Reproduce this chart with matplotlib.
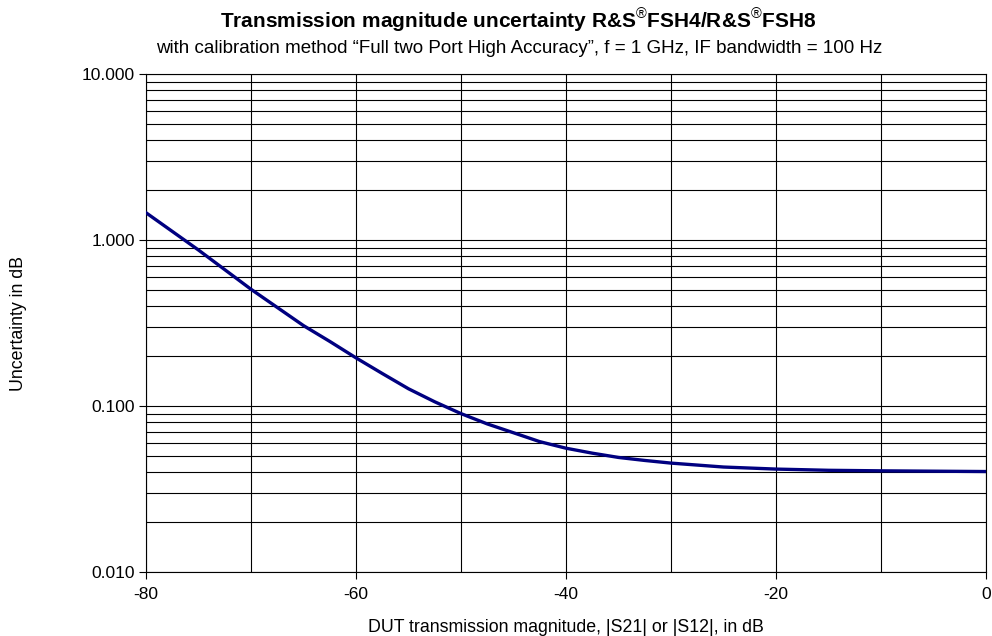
import matplotlib
matplotlib.use("Agg")
import matplotlib.pyplot as plt
from matplotlib.ticker import FixedLocator, NullFormatter

plt.rcParams['font.family'] = ['Liberation Sans', 'DejaVu Sans']
plt.rcParams['mathtext.fontset'] = 'custom'
plt.rcParams['mathtext.rm'] = 'Liberation Sans'

# DUT transmission magnitude (dB) and uncertainty (dB)
s21_db = [-80, -75, -70, -65, -62.5, -60, -57.5, -55, -52.5, -50, -47.5, -45, -42.5,
          -40, -37.5, -35, -32.5, -30, -25, -20, -15, -10, -5, 0]
uncert_db = [1.46, 0.87, 0.505, 0.305, 0.245, 0.195, 0.157, 0.127, 0.106, 0.09, 0.078,
             0.069, 0.061, 0.0557, 0.052, 0.049, 0.047, 0.0453, 0.0429, 0.0417, 0.041,
             0.0407, 0.0405, 0.0403]

x_ticks = [-80, -60, -40, -20, 0]
y_ticks = [0.01, 0.1, 1, 10]
y_labels = ["0.010", "0.100", "1.000", "10.000"]

fig = plt.figure(figsize=(9.92, 6.36), dpi=100)
ax = fig.add_axes([0.1472, 0.1006, 0.8468, 0.783])

ax.set_yscale('log')
ax.set_xlim(-80, 0)
ax.set_ylim(0.01, 10)

# grid: vertical every 10 dB, horizontal at every log subdivision
ax.xaxis.set_minor_locator(FixedLocator(range(-80, 1, 10)))
ax.set_xticks(x_ticks)
ax.set_xticklabels([str(t) for t in x_ticks])
ax.set_yticks(y_ticks)
ax.set_yticklabels(y_labels)
minor_y = [m * 10.0 ** e for e in range(-2, 1) for m in range(2, 10)]
ax.yaxis.set_minor_locator(FixedLocator(minor_y))
ax.yaxis.set_minor_formatter(NullFormatter())
ax.grid(True, which='both', axis='both', color='black', linewidth=0.8)
ax.tick_params(which='minor', length=0)
ax.tick_params(which='major', length=5, width=0.8, direction='out', labelsize=12.5, pad=3)
ax.tick_params(axis='x', pad=6)

for sp in ax.spines.values():
    sp.set_color('black')
    sp.set_linewidth(0.8)

ax.plot(s21_db, uncert_db, color='#000080', linewidth=2.4, solid_joinstyle='round', zorder=5)

fig.text(0.5706, 0.014, "DUT transmission magnitude, |S21| or |S12|, in dB",
         ha='center', va='center', fontsize=12.8)
fig.text(0.0186, 0.492, "Uncertainty in dB", ha='center', va='center',
         rotation=90, fontsize=12.8)

fig.text(0.522, 0.969, "Transmission magnitude uncertainty R&S$^{®}$FSH4/R&S$^{®}$FSH8",
         ha='center', va='center', fontsize=15, fontweight='bold')
fig.text(0.523, 0.924, "with calibration method \u201cFull two Port High Accuracy\u201d, f = 1 GHz, IF bandwidth = 100 Hz",
         ha='center', va='center', fontsize=13.5)

fig.savefig("out.png", dpi=100)
